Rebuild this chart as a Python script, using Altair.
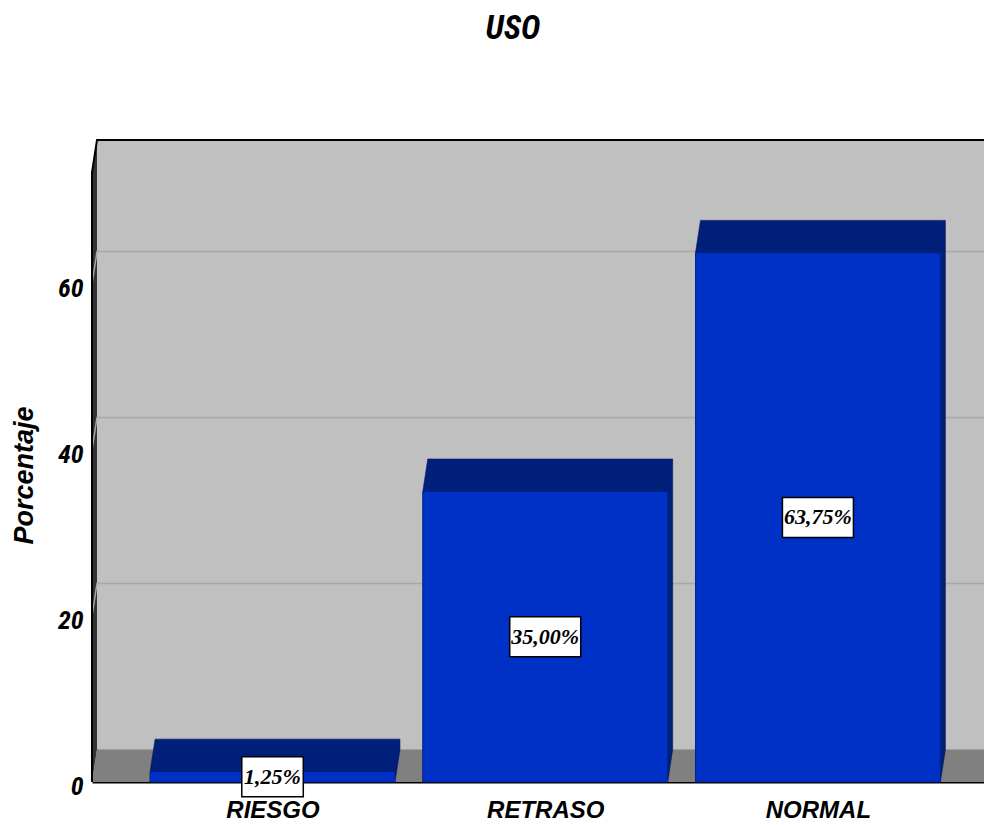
import json
import altair as alt
import pandas as pd

# ---------------- data ----------------
categories = ["RIESGO", "RETRASO", "NORMAL"]
percentages = [1.25, 35.00, 63.75]
y_ticks = [0, 20, 40, 60]
grid_values = [20, 40, 60]
title_text = "USO"
y_title = "Porcentaje"

# ---------------- layout ----------------
W, H = 892, 642
PX_PER_SLOT = 272.7
XMAX = W / PX_PER_SLOT
PX_PER_UNIT = 8.3
YMAX = H / PX_PER_UNIT
DX = 5 / PX_PER_SLOT          # 3D depth, horizontal (slot units)
DY = 32.5 / PX_PER_UNIT       # 3D depth, vertical (value units)
WALL_TOP = YMAX - DY
CENTER0 = 0.662
HALF = 0.449
BOX_HH = 20 / PX_PER_UNIT

SANS = "Liberation Sans Narrow, Arial Narrow, Roboto Condensed, DejaVu Sans Condensed, Liberation Sans, Arial, sans-serif"
SANS_WIDE = "Liberation Sans, Arial, sans-serif"
SERIF = "Liberation Serif, Times New Roman, serif"

FRONT = "#0031c6"
DARK = "#001f7a"


def fmt(v):
    return f"{v:.2f}".replace(".", ",") + "%"


bars = []
sil = []
for i, (c, v) in enumerate(zip(categories, percentages)):
    cx = i + CENTER0
    x0, x1 = cx - HALF, cx + HALF
    lab = fmt(v)
    bw = (9.5 * len(lab) + 14) / 2 / PX_PER_SLOT
    bars.append(dict(cat=c, v=v, base=0, cx=cx, x0=x0, x1=x1, label=lab, mid=v / 2,
                     bx0=cx - bw, bx1=cx + bw, by0=v / 2 - BOX_HH, by1=v / 2 + BOX_HH))
    for xx, lo, hi in [(x0, 0, v), (x0 + DX, 0, v + DY), (x1, 0, v + DY), (x1 + DX, DY, v + DY)]:
        sil.append(dict(cat=c, x=xx, lo=lo, hi=hi))
bars = pd.DataFrame(bars)
sil = pd.DataFrame(sil)

wall = pd.DataFrame(dict(x=[0, DX], lo=[0, DY], hi=[WALL_TOP, YMAX]))
wall_cap = pd.DataFrame(dict(x=[0, DX], lo=[WALL_TOP, YMAX], hi=[YMAX, YMAX]))
floor = pd.DataFrame(dict(x=[0, DX, XMAX], lo=[0, 0, 0], hi=[0, DY, DY]))
grid = pd.DataFrame([dict(g=g, o=k, x=xx, y=yy)
                     for g in grid_values
                     for k, (xx, yy) in enumerate([(0, g), (DX, g + DY), (XMAX, g + DY)])])
frame = pd.DataFrame(dict(o=[0, 1, 2, 3], x=[0, 0, DX, XMAX], y=[0, WALL_TOP, YMAX, YMAX]))

xs = alt.Scale(domain=[0, XMAX], nice=False, zero=False)
ys = alt.Scale(domain=[0, YMAX], nice=False, zero=False)

label_expr = json.dumps(categories) + f"[round(datum.value - {CENTER0})]"

XA = alt.Axis(
    values=[i + CENTER0 for i in range(len(categories))], labelExpr=label_expr,
    title=None, grid=False, ticks=False, domain=True, domainColor="black", domainWidth=2,
    labelFont=SANS_WIDE, labelFontSize=24, labelFontStyle="italic", labelFontWeight="bold",
    labelColor="black", labelPadding=16, labelFlush=False, labelOverlap=False)
YA = alt.Axis(
    values=y_ticks, format="d", title=y_title, grid=False, ticks=False, domain=False,
    labelFont=SANS, labelFontSize=26, labelFontStyle="italic", labelFontWeight="bold",
    labelColor="black", labelPadding=9, labelOffset=4,
    titleFont=SANS_WIDE, titleFontSize=27, titleFontStyle="italic", titleFontWeight="bold",
    titleColor="black", titleX=-68, titleY=335, titleAngle=270, titleBaseline="middle",
    titleAlign="center")


def X(f):
    return alt.X(f, scale=xs, axis=XA)


def Y(f):
    return alt.Y(f, scale=ys, axis=YA)


wall_l = alt.Chart(wall).mark_area(color="#333333").encode(x=X("x:Q"), y=Y("lo:Q"), y2="hi:Q")
cap_l = alt.Chart(wall_cap).mark_area(color="white").encode(x=X("x:Q"), y=Y("lo:Q"), y2="hi:Q")
floor_l = alt.Chart(floor).mark_area(color="#808080").encode(x=X("x:Q"), y=Y("lo:Q"), y2="hi:Q")
grid_l = alt.Chart(grid).mark_line(color="#a8a8a8", strokeWidth=1.5).encode(
    x=X("x:Q"), y=Y("y:Q"), detail="g:N", order="o:Q")
frame_l = alt.Chart(frame).mark_line(color="black", strokeWidth=2).encode(
    x=X("x:Q"), y=Y("y:Q"), order="o:Q")
sil_l = alt.Chart(sil).mark_area(color=DARK, stroke="#00155a", strokeWidth=0.6).encode(
    x=X("x:Q"), y=Y("lo:Q"), y2="hi:Q", detail="cat:N")
front_l = alt.Chart(bars).mark_rect(color=FRONT, stroke="#00207f", strokeWidth=0.6).encode(
    x=X("x0:Q"), x2="x1:Q", y=Y("base:Q"), y2="v:Q")
box_l = alt.Chart(bars).mark_rect(fill="white", stroke="black", strokeWidth=1.5).encode(
    x=X("bx0:Q"), x2="bx1:Q", y=Y("by0:Q"), y2="by1:Q")
text_l = alt.Chart(bars).mark_text(font=SERIF, fontSize=22, fontStyle="italic", fontWeight="bold",
                                   color="black", align="center", baseline="middle").encode(
    x=X("cx:Q"), y=Y("mid:Q"), text="label:N")

chart = alt.layer(wall_l, cap_l, floor_l, grid_l, frame_l, sil_l, front_l, box_l, text_l).properties(
    width=W, height=H,
    padding={"left": 84, "top": 132, "right": 0, "bottom": 42},
    autosize=alt.AutoSizeParams(type="none"),
    title=alt.TitleParams(title_text, font=SANS, fontSize=33, fontStyle="italic", fontWeight="bold",
                          color="black", anchor="middle", frame="group", offset=64,
                          baseline="alphabetic", dx=-25),
).configure(background="white", view=alt.ViewConfig(stroke=None, fill="#c0c0c0"))

chart.save("out.html", embed_options={"renderer": "svg", "actions": False})
